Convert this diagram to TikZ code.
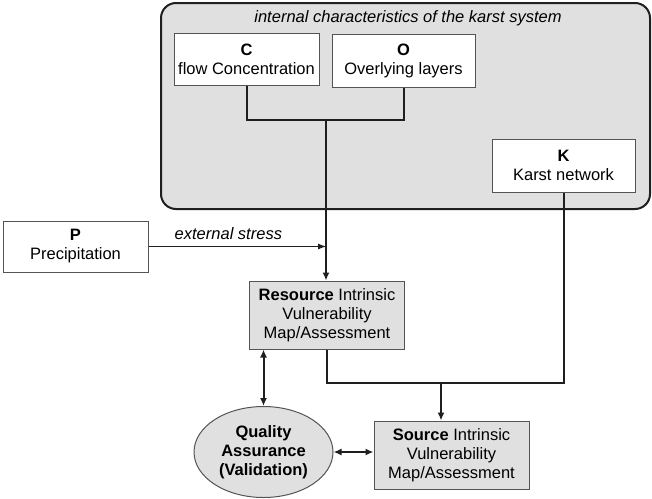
\documentclass[tikz,border=0pt]{standalone}
\usepackage{fontspec}
\setmainfont{Liberation Sans}
\usetikzlibrary{arrows.meta,shapes.geometric}
\definecolor{boxfill}{gray}{0.88}
\definecolor{boxline}{gray}{0.33}
\definecolor{lineclr}{gray}{0.12}
\begin{document}
\begin{tikzpicture}[x=1pt,y=-1pt,
  every node/.style={font=\fontsize{16.5}{19}\selectfont, inner sep=0pt, align=center},
  wbox/.style={draw=boxline, line width=1pt, fill=white},
  gbox/.style={draw=boxline, line width=1pt, fill=boxfill},
  conn/.style={draw=lineclr, line width=2pt},
  arr/.style={conn, -{Latex[length=8pt,width=7pt]}},
  darr/.style={conn, {Latex[length=8pt,width=7pt]}-{Latex[length=8pt,width=7pt]}},
  thin arr/.style={draw=lineclr, line width=0.9pt, -{Latex[length=8pt,width=6pt]}}]
\useasboundingbox (0,0) rectangle (652,498);
% outer system box
\draw[draw=lineclr, line width=2pt, fill=boxfill, rounded corners=15pt] (161,3) rectangle (650,209);
\node (title) at (408,18) {\itshape internal characteristics of the karst system};
\node[wbox, minimum width=145pt, minimum height=52pt] (C) at (246.5,59) {\textbf{C}\\flow Concentration};
\node[wbox, minimum width=143pt, minimum height=53pt] (O) at (403.5,60.5) {\textbf{O}\\Overlying layers};
\node[wbox, minimum width=143pt, minimum height=53pt] (K) at (563.5,165.5) {\textbf{K}\\Karst network};
\node[wbox, minimum width=145pt, minimum height=51pt] (P) at (75.5,246.5) {\textbf{P}\\Precipitation};
\node[gbox, minimum width=155pt, minimum height=68pt] (R) at (327,315) {\textbf{Resource} Intrinsic\\Vulnerability\\Map/Assessment};
\node[gbox, minimum width=155pt, minimum height=68pt] (S) at (451.5,455) {\textbf{Source} Intrinsic\\Vulnerability\\Map/Assessment};
\node[ellipse, draw=boxline, line width=1pt, fill=boxfill, minimum width=139pt, minimum height=91pt] (E) at (263.5,452) {\textbf{Quality}\\\textbf{Assurance}\\\textbf{(Validation)}};
\coordinate (jc) at (326,120);
\coordinate (jr) at (441,383);
% connectors
\draw[conn] (C.south) |- (jc) -| (O.south);
\draw[arr] (jc) -- (jc |- R.north);
\draw[thin arr] (P.east) -- (jc |- P.east) node[pos=0.45, above=6pt] (ext) {\itshape external stress};
\draw[conn] (R.south) |- (jr) -| (K.south);
\draw[arr] (jr) -- (jr |- S.north);
\draw[darr] (E.north) -- (E.north |- R.south);
\draw[darr] (E.east) -- (E.east -| S.west);
\end{tikzpicture}
\end{document}
